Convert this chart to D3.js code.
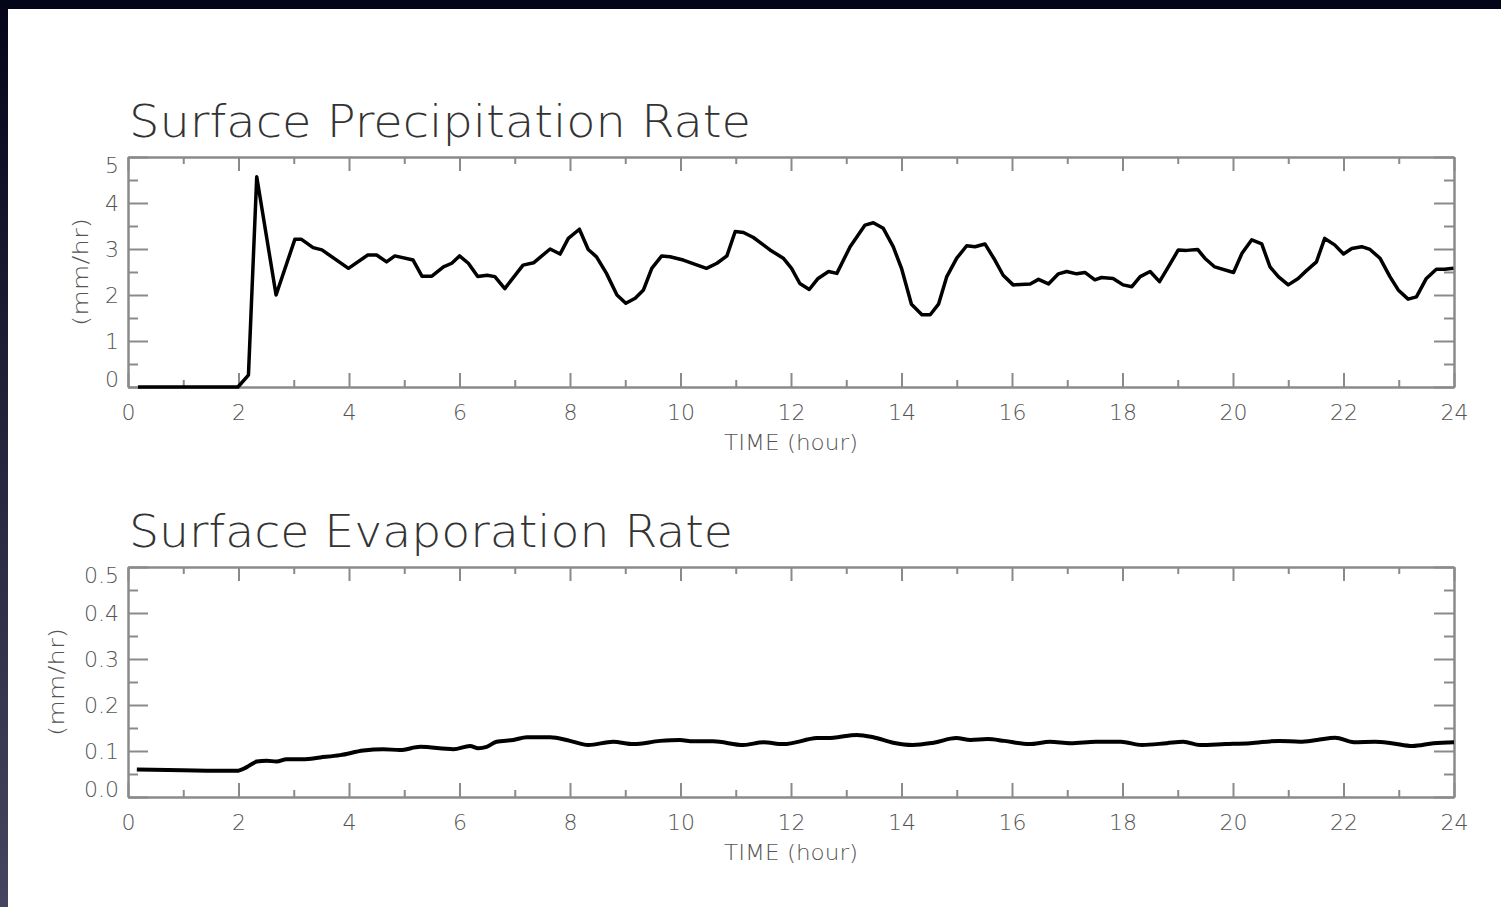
<!DOCTYPE html>
<html>
<head>
<meta charset="utf-8">
<script src="https://cdn.jsdelivr.net/npm/d3@7"></script>
<style>
  body { margin: 0; background: #fff; }
  svg { display: block; }
  .axis path, .axis line { stroke: #8a8a8a; stroke-width: 2; }
  .axis text { font-family: "DejaVu Sans", sans-serif; font-size: 22px; fill: #555; font-weight: 200; }
</style>
</head>
<body>
<div id="chart"></div>
<script>
// precipitation: time (hour) and rate (mm/hr)
var precipTime = [0.18, 1.99, 2.18, 2.33, 2.68, 3.02, 3.14, 3.35, 3.51, 3.99, 4.34, 4.50, 4.68, 4.83, 5.16,
  5.32, 5.50, 5.71, 5.86, 6.00, 6.16, 6.33, 6.50, 6.64, 6.82, 7.15, 7.34, 7.64, 7.82, 7.97, 8.17, 8.33,
  8.48, 8.66, 8.85, 9.01, 9.18, 9.33, 9.48, 9.66, 9.81, 10.05, 10.47, 10.66, 10.84, 10.99, 11.14, 11.32,
  11.62, 11.86, 12.01, 12.16, 12.33, 12.49, 12.68, 12.83, 13.07, 13.34, 13.49, 13.67, 13.85, 14.00, 14.18,
  14.37, 14.52, 14.67, 14.82, 15.00, 15.18, 15.33, 15.51, 15.69, 15.84, 16.02, 16.33, 16.48, 16.66, 16.84,
  16.99, 17.17, 17.32, 17.50, 17.62, 17.83, 18.01, 18.17, 18.32, 18.50, 18.67, 18.83, 19.01, 19.16, 19.36,
  19.49, 19.67, 20.01, 20.16, 20.34, 20.52, 20.67, 20.82, 21.00, 21.18, 21.33, 21.51, 21.66, 21.84, 22.00,
  22.15, 22.33, 22.48, 22.66, 22.84, 22.99, 23.17, 23.32, 23.50, 23.68, 23.83, 23.99];
var precipRate = [0, 0, 0.26, 4.57, 2.00, 3.21, 3.21, 3.03, 2.98, 2.58, 2.87, 2.87, 2.72, 2.85, 2.76,
  2.41, 2.41, 2.61, 2.69, 2.85, 2.69, 2.40, 2.43, 2.40, 2.14, 2.65, 2.70, 3.00, 2.89, 3.23, 3.43, 2.99,
  2.83, 2.47, 2.00, 1.82, 1.93, 2.11, 2.58, 2.85, 2.83, 2.76, 2.58, 2.69, 2.85, 3.38, 3.36, 3.25,
  2.98, 2.80, 2.58, 2.25, 2.12, 2.36, 2.51, 2.47, 3.05, 3.52, 3.57, 3.45, 3.05, 2.58, 1.80,
  1.57, 1.57, 1.80, 2.40, 2.80, 3.07, 3.05, 3.11, 2.76, 2.43, 2.22, 2.24, 2.34, 2.24, 2.46,
  2.51, 2.46, 2.49, 2.33, 2.38, 2.36, 2.22, 2.18, 2.40, 2.51, 2.29, 2.61, 2.98, 2.97, 2.99,
  2.80, 2.61, 2.49, 2.90, 3.20, 3.11, 2.61, 2.40, 2.22, 2.36, 2.53, 2.72, 3.23, 3.09, 2.89,
  3.01, 3.05, 2.99, 2.80, 2.40, 2.11, 1.91, 1.96, 2.36, 2.56, 2.56, 2.58];

// evaporation: time (hour) and rate (mm/hr)
var evapTime = [0.16, 1.97, 2.15, 2.33, 2.51, 2.69, 2.87, 3.17, 3.48, 3.84, 4.26, 4.62, 4.92, 5.29, 5.89,
  6.19, 6.34, 6.49, 6.67, 6.97, 7.22, 7.64, 8.00, 8.33, 8.78, 9.15, 9.63, 9.99, 10.23, 10.59, 11.14,
  11.50, 11.86, 12.47, 12.77, 13.19, 13.49, 13.85, 14.20, 14.58, 14.99, 15.25, 15.56, 15.86, 16.31,
  16.69, 17.06, 17.52, 17.97, 18.35, 18.80, 19.10, 19.40, 19.86, 20.31, 20.84, 21.21, 21.52, 21.85,
  22.19, 22.57, 22.87, 23.25, 23.63, 24.00];
var evapRate = [0.060, 0.057, 0.065, 0.077, 0.079, 0.077, 0.082, 0.082, 0.086, 0.091, 0.101, 0.104, 0.102, 0.109, 0.104,
  0.111, 0.106, 0.109, 0.120, 0.124, 0.130, 0.130, 0.122, 0.113, 0.120, 0.115, 0.122, 0.124, 0.121, 0.121, 0.113,
  0.119, 0.115, 0.128, 0.129, 0.135, 0.130, 0.118, 0.113, 0.118, 0.128, 0.124, 0.126, 0.122, 0.115,
  0.120, 0.117, 0.120, 0.120, 0.113, 0.117, 0.120, 0.113, 0.115, 0.117, 0.122, 0.120, 0.124, 0.129,
  0.119, 0.120, 0.117, 0.111, 0.117, 0.119];

var xMajor = [0, 2, 4, 6, 8, 10, 12, 14, 16, 18, 20, 22, 24];
var xMinor = [1, 3, 5, 7, 9, 11, 13, 15, 17, 19, 21, 23];
var precipMajor = [0, 1, 2, 3, 4, 5];
var precipMinor = [0.5, 1.5, 2.5, 3.5, 4.5];
var evapMajor = [0, 0.1, 0.2, 0.3, 0.4, 0.5];
var evapMinor = [0.05, 0.15, 0.25, 0.35, 0.45];

var W = 1501, H = 907;
var left = 128, right = 1454, plotH = 230;

var svg = d3.select("#chart").append("svg").attr("width", W).attr("height", H);

// dark frame around the slide
var defs = svg.append("defs");
var grad = defs.append("linearGradient").attr("id", "edge").attr("x1", 0).attr("y1", 0).attr("x2", 0).attr("y2", 1);
grad.append("stop").attr("offset", "0%").attr("stop-color", "#05051a");
grad.append("stop").attr("offset", "100%").attr("stop-color", "#45455f");
svg.append("rect").attr("width", W).attr("height", H).attr("fill", "#fff");
svg.append("rect").attr("width", W).attr("height", 9).attr("fill", "#05051a");
svg.append("rect").attr("width", 8).attr("height", H).attr("fill", "url(#edge)");

var x = d3.scaleLinear().domain([0, 24]).range([0, right - left]);

function panel(cfg) {
  var g = svg.append("g").attr("transform", "translate(" + left + "," + cfg.top + ")");
  var y = d3.scaleLinear().domain(cfg.domain).range([plotH, 0]);
  var w = right - left;

  // minor ticks first, then major with labels
  g.append("g").attr("class", "axis").attr("transform", "translate(0," + plotH + ")")
    .call(d3.axisBottom(x).tickValues(xMinor).tickSize(-7).tickSizeOuter(0).tickFormat(""));
  g.append("g").attr("class", "axis")
    .call(d3.axisTop(x).tickValues(xMinor).tickSize(-7).tickSizeOuter(0).tickFormat(""));
  g.append("g").attr("class", "axis")
    .call(d3.axisLeft(y).tickValues(cfg.minor).tickSize(-10).tickSizeOuter(0).tickFormat(""));
  g.append("g").attr("class", "axis").attr("transform", "translate(" + w + ",0)")
    .call(d3.axisRight(y).tickValues(cfg.minor).tickSize(-10).tickSizeOuter(0).tickFormat(""));

  g.append("g").attr("class", "axis").attr("transform", "translate(0," + plotH + ")")
    .call(d3.axisBottom(x).tickValues(xMajor).tickSize(-14).tickSizeOuter(0).tickPadding(17).tickFormat(d3.format("d")));
  g.append("g").attr("class", "axis")
    .call(d3.axisTop(x).tickValues(xMajor).tickSize(-14).tickSizeOuter(0).tickFormat(""));
  var ya = g.append("g").attr("class", "axis")
    .call(d3.axisLeft(y).tickValues(cfg.major).tickSize(-20).tickSizeOuter(0).tickPadding(9).tickFormat(d3.format(cfg.fmt)));
  g.append("g").attr("class", "axis").attr("transform", "translate(" + w + ",0)")
    .call(d3.axisRight(y).tickValues(cfg.major).tickSize(-20).tickSizeOuter(0).tickFormat(""));

  // end labels kept inside the frame
  ya.selectAll(".tick text").attr("y", function (d) {
    if (d === cfg.domain[1]) return 8;
    if (d === cfg.domain[0]) return -8;
    return 0;
  });

  g.append("path")
    .datum(cfg.time.map(function (t, i) { return [t, cfg.values[i]]; }))
    .attr("fill", "none")
    .attr("stroke", "#000")
    .attr("stroke-width", cfg.lw)
    .attr("stroke-linejoin", "round")
    .attr("d", d3.line().curve(cfg.curve)
      .x(function (d) { return x(d[0]); })
      .y(function (d) { return y(d[1]); }));

  svg.append("text")
    .attr("x", left + 1).attr("y", cfg.top - 20)
    .attr("textLength", cfg.titleLen).attr("lengthAdjust", "spacingAndGlyphs")
    .style("font-family", "DejaVu Sans, sans-serif").style("font-size", "44px")
    .style("font-weight", 200).style("fill", "#333")
    .text(cfg.title);

  svg.append("text")
    .attr("x", left + w / 2).attr("y", cfg.top + plotH + 63)
    .attr("text-anchor", "middle")
    .attr("textLength", 134).attr("lengthAdjust", "spacingAndGlyphs")
    .style("font-family", "DejaVu Sans, sans-serif").style("font-size", "22px")
    .style("font-weight", 200).style("fill", "#555")
    .text("TIME (hour)");

  svg.append("text")
    .attr("transform", "translate(" + cfg.ylabX + "," + (cfg.top + plotH / 2) + ") rotate(-90)")
    .attr("text-anchor", "middle").attr("dy", "0.35em")
    .attr("textLength", 108).attr("lengthAdjust", "spacingAndGlyphs")
    .style("font-family", "DejaVu Sans, sans-serif").style("font-size", "22px")
    .style("font-weight", 200).style("fill", "#555")
    .text("(mm/hr)");
}

panel({
  top: 157, domain: [0, 5], major: precipMajor, minor: precipMinor, fmt: "d",
  time: precipTime, values: precipRate, curve: d3.curveLinear, lw: 3.5,
  title: "Surface Precipitation Rate", titleLen: 622, ylabX: 80
});

panel({
  top: 567, domain: [0, 0.5], major: evapMajor, minor: evapMinor, fmt: ".1f",
  time: evapTime, values: evapRate, curve: d3.curveMonotoneX, lw: 4,
  title: "Surface Evaporation Rate", titleLen: 604, ylabX: 56
});
</script>
</body>
</html>
